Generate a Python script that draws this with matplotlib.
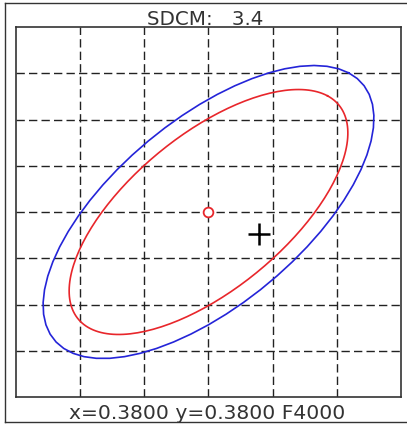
import numpy as np
import matplotlib
matplotlib.use("Agg")
import matplotlib.pyplot as plt
from matplotlib.lines import Line2D

# ---- data ----
center_x, center_y = 0.3800, 0.3800
test_x, test_y = 0.38078, 0.37952
x_ticks = [0.377, 0.378, 0.379, 0.380, 0.381, 0.382, 0.383]
y_ticks = [0.376, 0.377, 0.378, 0.379, 0.380, 0.381, 0.382, 0.383, 0.384]
# ellipses: semi-major, semi-minor, angle (deg)
red_axes = [0.003122, 0.001408, 53.6]
blue_axes = [0.003718, 0.001691, 54.0]
title_text = "SDCM:   3.4"
bottom_text = "x=0.3800 y=0.3800 F4000"

W, H = 407, 427
fig = plt.figure(figsize=(W / 100, H / 100), dpi=100)
fig.patch.set_facecolor("white")

ax = fig.add_axes([16 / W, 1 - 398 / H, 385 / W, 370 / H])
ax.set_xlim(x_ticks[0], x_ticks[-1])
ax.set_ylim(y_ticks[0], y_ticks[-1])
ax.set_xticks(x_ticks)
ax.set_yticks(y_ticks)
ax.tick_params(length=0, labelbottom=False, labelleft=False)
for s in ax.spines.values():
    s.set_linewidth(1.2)
    s.set_color("#333333")

for xv in x_ticks[1:-1]:
    ax.axvline(xv, color="#222222", lw=1.0, dashes=(6.0, 3.0))
for yv in y_ticks[1:-1]:
    ax.axhline(yv, color="#222222", lw=1.0, dashes=(6.0, 3.0))


def ellipse_pts(a, b, ang, n):
    t = np.linspace(0, 2 * np.pi, n)
    th = np.radians(ang)
    ex = a * np.cos(t)
    ey = b * np.sin(t)
    return (center_x + ex * np.cos(th) - ey * np.sin(th),
            center_y + ex * np.sin(th) + ey * np.cos(th))


bx, by = ellipse_pts(*blue_axes, 60)
ax.plot(bx, by, color="#2424d8", lw=1.2)
rx, ry = ellipse_pts(*red_axes, 200)
ax.plot(rx, ry, color="#e8262b", lw=1.2)

ax.plot([center_x], [center_y], marker="o", ms=7, mfc="white",
        mec="#e8262b", mew=1.3, zorder=5)
ax.plot([test_x], [test_y], marker="+", ms=16, mec="black", mew=1.8,
        zorder=5)

fig.text(205 / W, 1 - 25 / H, title_text, ha="center", va="baseline",
         fontsize=14.3, color="#333333")
fig.text(207.5 / W, 1 - 419 / H, bottom_text, ha="center", va="baseline",
         fontsize=14.6, color="#333333")

# outer frame (left, top, bottom)
fig.add_artist(Line2D([5 / W, 5 / W], [1 - 4 / H, 1 - 423 / H],
                      transform=fig.transFigure, color="#333333", lw=1.0))
fig.add_artist(Line2D([5 / W, 1.0], [1 - 4 / H, 1 - 4 / H],
                      transform=fig.transFigure, color="#333333", lw=1.0))
fig.add_artist(Line2D([5 / W, 1.0], [1 - 423 / H, 1 - 423 / H],
                      transform=fig.transFigure, color="#333333", lw=1.0))

fig.savefig("out.png", dpi=100)
